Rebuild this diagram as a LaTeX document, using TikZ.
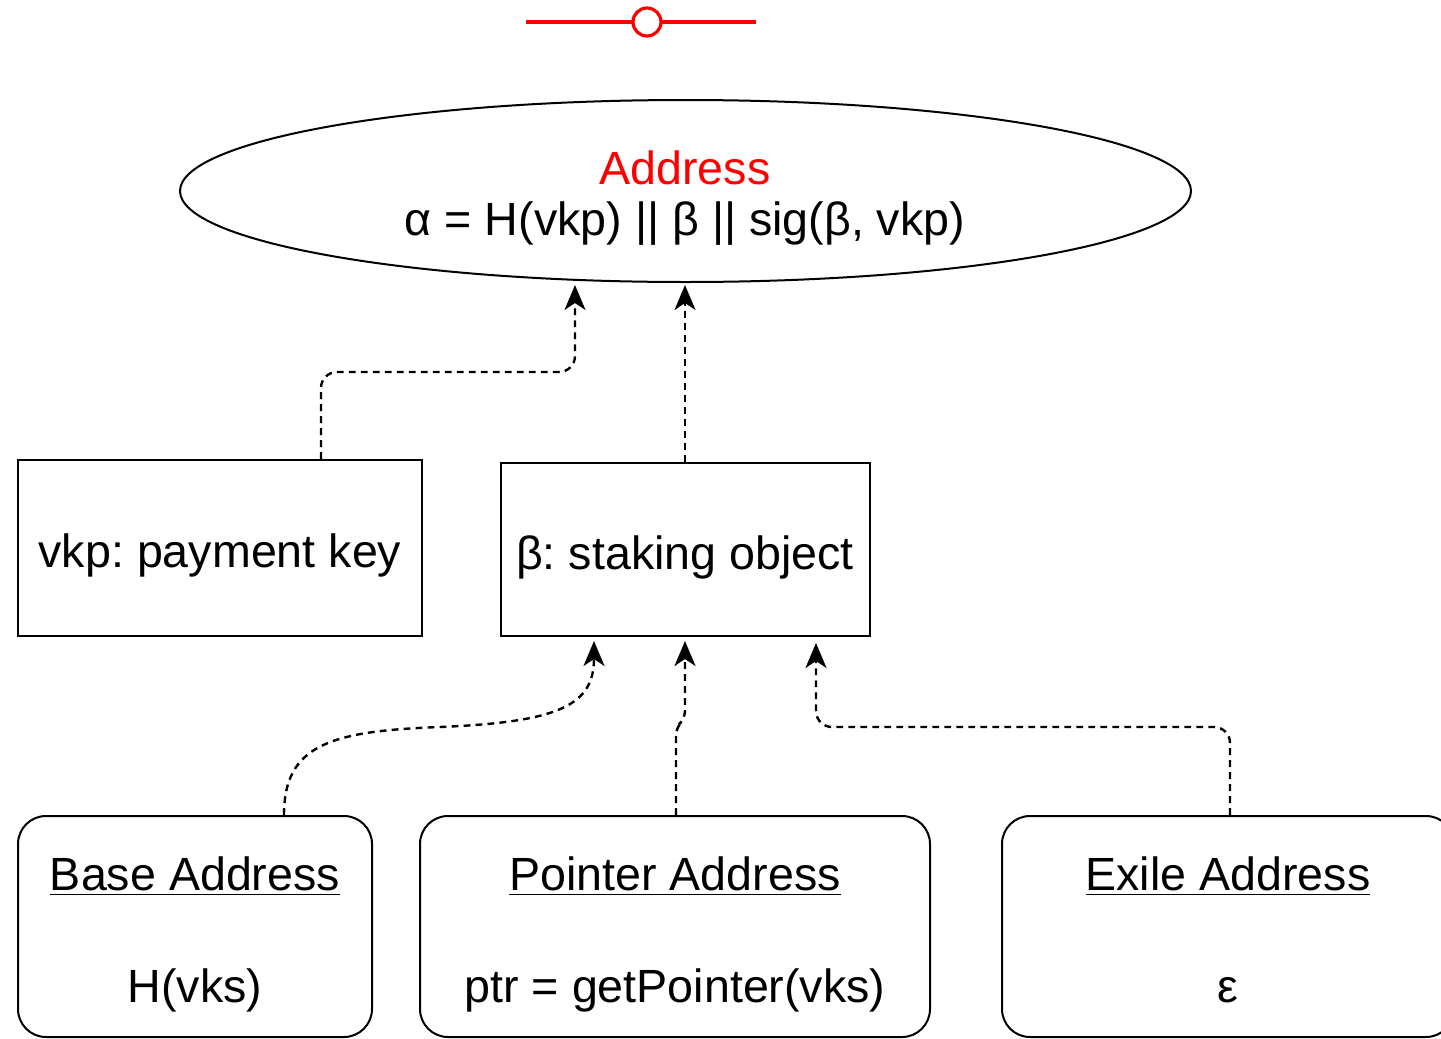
\documentclass[tikz,border=0pt]{standalone}
\usepackage{fontspec}
\setmainfont{Liberation Sans}
\usetikzlibrary{arrows.meta,shapes.geometric}
\frenchspacing
\tikzset{
  txt/.style={font=\fontsize{23.3}{28}\selectfont, inner sep=0pt, text=black},
  box/.style={draw=black, line width=1pt, inner sep=0pt},
  conn/.style={draw=black, line width=1.2pt, dash pattern=on 3.4pt off 2.6pt,
    -{Stealth[length=12.5pt,width=10.5pt,inset=3.5pt]}},
}
\begin{document}
\begin{tikzpicture}[x=0.5pt,y=-0.5pt]
\useasboundingbox (0,0) rectangle (1441,1039);

% link marker at the top
\draw[red, line width=1.6pt] (526,22) -- (633,22);
\draw[red, line width=1.6pt] (661,22) -- (756,22);
\node[circle, draw=red, line width=1.6pt, minimum size=14pt, inner sep=0pt] (mark) at (647,22) {};

% address ellipse
\node[ellipse, draw=black, line width=1pt, minimum width=505.5pt, minimum height=91pt, inner sep=0pt] (addr) at (685.5,191) {};
\node[txt, text=red] (addrtitle) at (685,168) {Address};
\node[txt] (addrformula) at (685,224) {α = H(vkp) || β || sig(β, vkp)};

% key and staking object boxes
\node[box, minimum width=202pt, minimum height=88pt] (vkp) at (220,548) {};
\node[txt] (vkptext) at (220,555) {vkp: payment key};
\node[box, minimum width=184.5pt, minimum height=86.5pt] (beta) at (685.5,549.5) {};
\node[txt] (betatext) at (685,557) {β: staking object};

% address variants
\node[box, rounded corners=14pt, minimum width=177pt, minimum height=110.5pt] (base) at (195,926.5) {};
\node[txt] (basetitle) at (195,876) {\underline{Base Address}};
\node[txt] (basebody) at (195,990) {H(vks)};
\node[box, rounded corners=14pt, minimum width=255pt, minimum height=110.5pt] (ptr) at (675,926.5) {};
\node[txt] (ptrtitle) at (675,876) {\underline{Pointer Address}};
\node[txt] (ptrbody) at (675,990) {ptr = getPointer(vks)};
\node[box, rounded corners=14pt, minimum width=226pt, minimum height=110.5pt] (exile) at (1228,926.5) {};
\node[txt] (exiletitle) at (1228,876) {\underline{Exile Address}};
\node[txt] (exilebody) at (1228,990) {ε};

% connectors
\draw[conn, rounded corners=8pt] (vkp.north -| 321,0) -- (321,372) -- (575,372) -- ([yshift=-1pt]addr.south -| 575,0);
\draw[conn] (beta.north -| 685,0) -- ([yshift=-1pt]addr.south -| 685,0);
\draw[conn] (base.north -| 284,0) .. controls (284,745) and (330,731) .. (440,727)
  .. controls (560,722) and (594,705) .. ([yshift=-2pt]beta.south -| 594,0);
\draw[conn, rounded corners=4pt] (ptr.north -| 676,0) -- (676,727) -- (685,719) -- ([yshift=-2pt]beta.south -| 685,0);
\draw[conn, rounded corners=8pt] (exile.north -| 1230,0) -- (1230,727) -- (816,727) -- ([yshift=-3pt]beta.south -| 816,0);
\end{tikzpicture}
\end{document}
